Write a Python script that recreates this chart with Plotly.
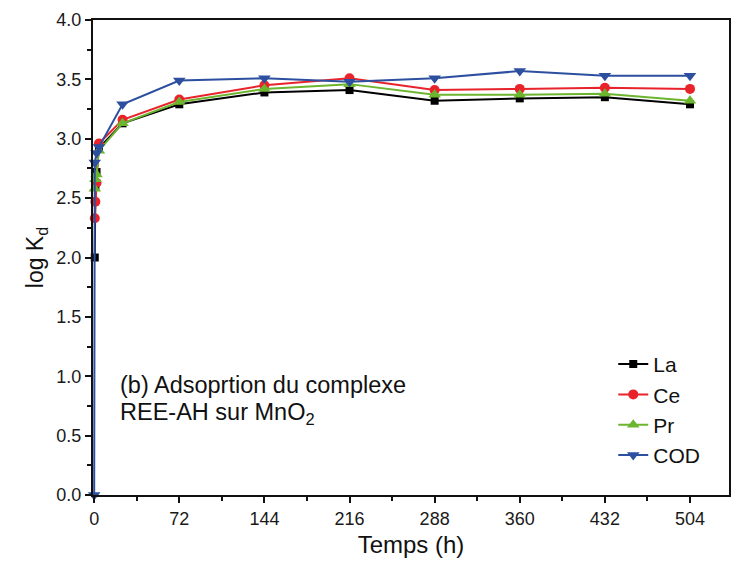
import plotly.graph_objects as go

t_la = [0.5, 1, 2, 4, 24, 72, 144, 216, 288, 360, 432, 504]
la = [2.0, 2.6, 2.72, 2.92, 3.13, 3.29, 3.39, 3.41, 3.32, 3.34, 3.35, 3.29]

t_ce = [0.5, 1, 2, 4, 24, 72, 144, 216, 288, 360, 432, 504]
ce = [2.33, 2.47, 2.63, 2.96, 3.16, 3.33, 3.45, 3.51, 3.41, 3.42, 3.43, 3.42]

t_pr = [0.5, 1, 2, 4, 24, 72, 144, 216, 288, 360, 432, 504]
pr = [2.58, 2.66, 2.7, 2.9, 3.13, 3.31, 3.42, 3.46, 3.37, 3.37, 3.38, 3.32]

t_cod = [0, 0.5, 2, 4, 24, 72, 144, 216, 288, 360, 432, 504]
cod = [0.0, 2.8, 2.88, 2.93, 3.29, 3.49, 3.51, 3.48, 3.51, 3.57, 3.53, 3.53]

x_ticks = [0, 72, 144, 216, 288, 360, 432, 504]
y_ticks = [0, 0.5, 1.0, 1.5, 2.0, 2.5, 3.0, 3.5, 4.0]
y_labels = ["0.0", "0.5", "1.0", "1.5", "2.0", "2.5", "3.0", "3.5", "4.0"]

series = [
    ("La", t_la, la, "#000000", "square", 8),
    ("Ce", t_ce, ce, "#e8232b", "circle", 10),
    ("Pr", t_pr, pr, "#6cb52e", "triangle-up", 11),
    ("COD", t_cod, cod, "#2d4f9f", "triangle-down", 11),
]

fig = go.Figure()
for name, t, y, c, sym, sz in series:
    fig.add_trace(go.Scatter(
        x=t, y=y, name=name, mode="lines+markers",
        line=dict(color=c, width=2),
        marker=dict(symbol=sym, size=sz, color=c),
        cliponaxis=False,
    ))

font = "Liberation Sans, Arial, sans-serif"
tc = "#1a1a1a"
fig.update_layout(
    width=731, height=569,
    margin=dict(l=93, r=0, t=20, b=74),
    plot_bgcolor="white", paper_bgcolor="white",
    font=dict(family=font, color=tc, size=18),
    showlegend=True,
    legend=dict(
        x=0.818, y=0.318, xanchor="left", yanchor="top",
        font=dict(size=21, family=font, color="#111"), bgcolor="rgba(0,0,0,0)",
        tracegroupgap=0,
    ),
    xaxis=dict(
        range=[-1, 537], tickmode="array", tickvals=x_ticks,
        ticks="outside", ticklen=6, tickwidth=2, tickcolor="#111",
        minor=dict(tickmode="array", tickvals=[36, 108, 180, 252, 324, 396, 468, 540],
                   ticks="outside", ticklen=4, tickwidth=2, tickcolor="#111"),
        showline=True, linecolor="#111", linewidth=2, mirror=True,
        showgrid=False, zeroline=False,
        tickfont=dict(size=18),
        title=dict(text="Temps (h)", font=dict(size=24, color="#111"), standoff=9),
    ),
    yaxis=dict(
        range=[0, 4.0], tickmode="array", tickvals=y_ticks, ticktext=y_labels,
        ticks="outside", ticklen=6, tickwidth=2, tickcolor="#111",
        minor=dict(tickmode="array", tickvals=[0.25, 0.75, 1.25, 1.75, 2.25, 2.75, 3.25, 3.75],
                   ticks="outside", ticklen=4, tickwidth=2, tickcolor="#111"),
        showline=True, linecolor="#111", linewidth=2, mirror=True,
        showgrid=False, zeroline=False,
        tickfont=dict(size=18),
        title=dict(text="log K<sub>d</sub>", font=dict(size=23, color="#111"), standoff=6),
    ),
)

fig.add_annotation(
    x=0.04, y=0.2316, xref="paper", yref="paper", xanchor="left", yanchor="middle",
    text="(b) Adsoprtion du complexe",
    showarrow=False, align="left", font=dict(size=23.5, family=font, color="#111"),
)
fig.add_annotation(
    x=0.04, y=0.172, xref="paper", yref="paper", xanchor="left", yanchor="middle",
    text="REE-AH sur MnO<sub>2</sub>",
    showarrow=False, align="left", font=dict(size=23.5, family=font, color="#111"),
)

fig.write_html("out.html")
